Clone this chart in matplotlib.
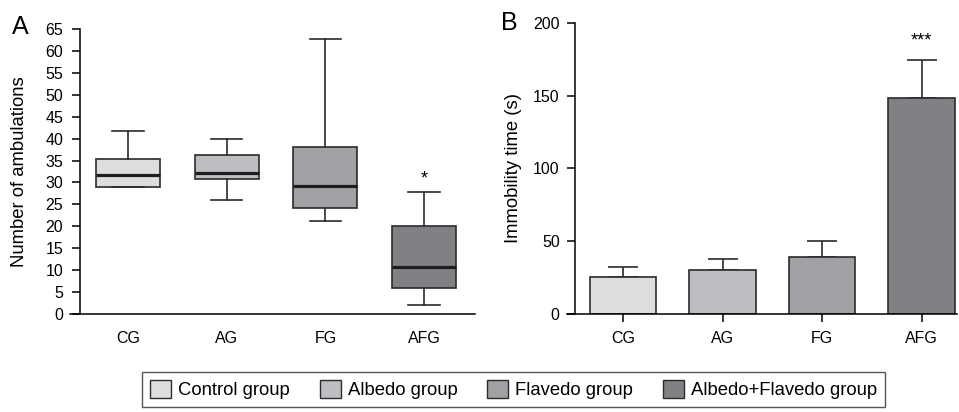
import matplotlib
matplotlib.use("Agg")
import matplotlib.pyplot as plt
from matplotlib.patches import Patch

plt.rcParams['font.family'] = ['Liberation Sans', 'DejaVu Sans']

groups = ["CG", "AG", "FG", "AFG"]
legend_labels = ["Control group", "Albedo group", "Flavedo group", "Albedo+Flavedo group"]
colors = ["#dcdddf", "#bdbec1", "#a0a1a4", "#808184"]

# Panel A: box plot stats
whislo = [29.0, 25.9, 21.1, 2.1]
q1 = [29.0, 30.7, 24.2, 5.9]
med = [31.7, 32.2, 29.2, 10.8]
q3 = [35.4, 36.3, 38.2, 20.0]
whishi = [41.8, 39.8, 62.7, 27.9]
sig_a = ["", "", "", "*"]

# Panel B: bar means and SEM
means = [25.6, 30.0, 39.4, 148.3]
errs = [6.4, 7.8, 10.7, 26.3]
sig_b = ["", "", "", "***"]

fig = plt.figure(figsize=(9.59, 4.12), dpi=100)
W, H = 959, 412

def ax_rect(x0, x1, ytop, ybot):
    return [x0 / W, 1 - ybot / H, (x1 - x0) / W, (ybot - ytop) / H]

edge = "#2b2b2b"
TICK = 11.5
LAB = 13.3

# ---------- Panel A ----------
axA = fig.add_axes(ax_rect(70, 475, 29, 314))
stats = []
for i in range(4):
    stats.append(dict(med=med[i], q1=q1[i], q3=q3[i], whislo=whislo[i],
                      whishi=whishi[i], fliers=[], label=groups[i]))
pos = [1, 2, 3, 4]
bp = axA.bxp(stats, positions=pos, widths=0.65, patch_artist=True,
             showfliers=False,
             boxprops=dict(edgecolor=edge, linewidth=1.2),
             medianprops=dict(color="#1e1e1e", linewidth=2.3),
             whiskerprops=dict(color=edge, linewidth=1.2),
             capprops=dict(color=edge, linewidth=1.2),
             capwidths=0.32)
for p, c in zip(bp['boxes'], colors):
    p.set_facecolor(c)
for i, s in enumerate(sig_a):
    if s:
        axA.text(pos[i], whishi[i] + 2.9, s, ha='center', va='center', fontsize=13)
axA.set_xlim(0.414, 4.515)
axA.set_ylim(0, 65)
axA.set_yticks(range(0, 66, 5))
axA.set_xticks(pos)
axA.set_xticklabels(groups)
axA.spines['top'].set_visible(False)
axA.spines['right'].set_visible(False)
axA.spines['left'].set_position(('axes', 10 / 405))
for sp in axA.spines.values():
    sp.set_linewidth(1.1)
axA.tick_params(axis='y', length=6, width=1.1, labelsize=TICK, pad=6)
axA.tick_params(axis='x', length=0, labelsize=TICK, pad=12.5)
axA.set_ylabel("Number of ambulations", fontsize=LAB)
axA.yaxis.set_label_coords((28 - 70) / 405, 0.5)
fig.text(12 / W, 1 - 27 / H, "A", fontsize=18, va='center', ha='left')

# ---------- Panel B ----------
axB = fig.add_axes(ax_rect(567, 957, 22.7, 314))
axB.bar(pos, means, width=0.67, color=colors, edgecolor=edge, linewidth=1.2, zorder=2)
axB.errorbar(pos, means, yerr=[[0] * 4, errs], fmt='none', ecolor=edge,
             elinewidth=1.2, capsize=11, capthick=1.2, zorder=1)
for i, s in enumerate(sig_b):
    if s:
        axB.text(pos[i], means[i] + errs[i] + 13, s, ha='center', va='center', fontsize=13)
axB.set_xlim(0.437, 4.355)
axB.set_ylim(0, 200)
axB.set_yticks([0, 50, 100, 150, 200])
axB.set_xticks(pos)
axB.set_xticklabels(groups)
axB.spines['top'].set_visible(False)
axB.spines['right'].set_visible(False)
axB.spines['left'].set_position(('axes', 8 / 390))
for sp in axB.spines.values():
    sp.set_linewidth(1.1)
axB.tick_params(axis='y', length=6, width=1.1, labelsize=TICK, pad=5)
axB.tick_params(axis='x', length=6, width=1.1, labelsize=TICK, pad=6.5)
axB.set_ylabel("Immobility time (s)", fontsize=LAB)
axB.yaxis.set_label_coords((522 - 567) / 390, 0.5)
fig.text(501 / W, 1 - 23 / H, "B", fontsize=18, va='center', ha='left')

# ---------- Legend ----------
handles = [Patch(facecolor=c, edgecolor=edge, linewidth=1.0) for c in colors]
leg = fig.legend(handles, legend_labels, loc='center', ncol=4,
                 bbox_to_anchor=(513.5 / W, 1 - 389.5 / H), frameon=True,
                 fancybox=False, fontsize=LAB, handlelength=1.14, handleheight=1.1,
                 handletextpad=0.38, columnspacing=1.6, borderpad=0.45,
                 borderaxespad=0)
leg.get_frame().set_edgecolor("#2b2b2b")
leg.get_frame().set_linewidth(1.0)

fig.savefig("out.png", dpi=100)
